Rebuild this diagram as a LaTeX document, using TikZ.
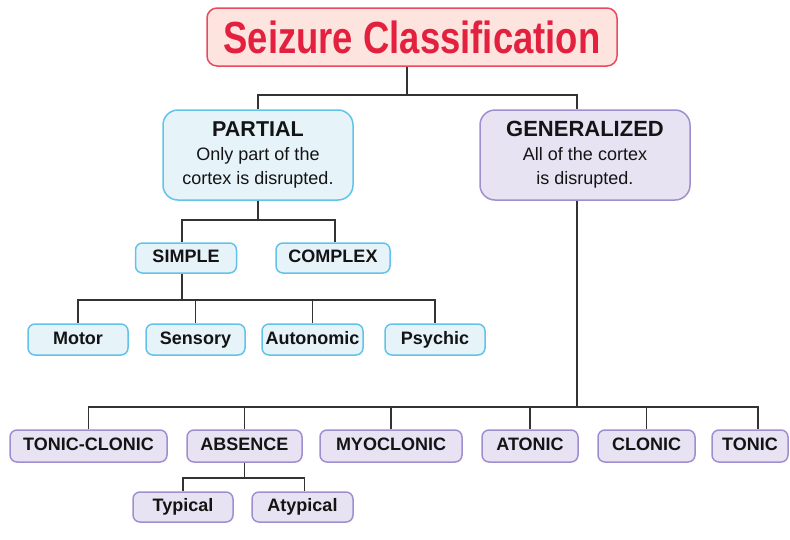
\documentclass[tikz,border=0pt]{standalone}
\usepackage{fontspec}
\setmainfont{Liberation Sans}
\newfontfamily\titlefont{Liberation Sans}[FakeStretch=0.81]
\usetikzlibrary{positioning}

\definecolor{titleline}{HTML}{E84A5F}
\definecolor{titlefill}{HTML}{FDE4DF}
\definecolor{titlered}{HTML}{E3213F}
\definecolor{partline}{HTML}{62C3EA}
\definecolor{partfill}{HTML}{E6F3F9}
\definecolor{genline}{HTML}{A08FD0}
\definecolor{genfill}{HTML}{E7E3F3}
\definecolor{inkgray}{HTML}{141414}
\definecolor{linkgray}{HTML}{333333}

\begin{document}
\begin{tikzpicture}[
    x=1pt, y=-1pt,
    box/.style={draw, rounded corners=7pt, line width=1.5pt, inner sep=0pt, align=center,
        text=inkgray, font=\bfseries\fontsize{18}{20}\selectfont},
    partbox/.style={box, draw=partline, fill=partfill},
    genbox/.style={box, draw=genline, fill=genfill},
    bigbox/.style={rounded corners=15pt, minimum height=90pt, font=\fontsize{18}{24}\selectfont},
    leaf/.style={text height=13pt, text depth=4pt},
    link/.style={draw=linkgray, line width=1.2pt}
]
\useasboundingbox (0,0) rectangle (790,539);

% Title
\node[draw=titleline, fill=titlefill, rounded corners=10pt, line width=1.5pt,
    minimum width=410pt, minimum height=58pt, text=titlered,
    font=\titlefont\bfseries\fontsize{45}{50}\selectfont] (title) at (412,37) {Seizure Classification};

% Main groups
\node[partbox, bigbox, minimum width=190pt] (partial) at (258,155)
    {{\bfseries\fontsize{21.5}{26}\selectfont PARTIAL}\\Only part of the\\cortex is disrupted.};
\node[genbox, bigbox, minimum width=210pt] (gen) at (585,155)
    {{\bfseries\fontsize{22}{26}\selectfont GENERALIZED}\\All of the cortex\\is disrupted.};

% Partial seizures
\node[partbox, leaf, minimum width=101pt, minimum height=30pt] (simple) at (186,258) {SIMPLE};
\node[partbox, leaf, minimum width=114pt, minimum height=30pt] (complex) at (333,258) {COMPLEX};

\node[partbox, leaf, minimum width=100pt, minimum height=31pt] (motor) at (78,339.5) {Motor};
\node[partbox, leaf, minimum width=99pt, minimum height=31pt] (sensory) at (195.5,339.5) {Sensory};
\node[partbox, leaf, minimum width=101pt, minimum height=31pt] (autonomic) at (312.5,339.5) {Autonomic};
\node[partbox, leaf, minimum width=100pt, minimum height=31pt] (psychic) at (435,339.5) {Psychic};

% Generalized seizures
\node[genbox, leaf, minimum width=157pt, minimum height=32pt] (tc) at (88.5,446) {TONIC-CLONIC};
\node[genbox, leaf, minimum width=115pt, minimum height=32pt] (absence) at (244.5,446) {ABSENCE};
\node[genbox, leaf, minimum width=142pt, minimum height=32pt] (myo) at (391,446) {MYOCLONIC};
\node[genbox, leaf, minimum width=96pt, minimum height=32pt] (atonic) at (530,446) {ATONIC};
\node[genbox, leaf, minimum width=97pt, minimum height=32pt] (clonic) at (646.5,446) {CLONIC};
\node[genbox, leaf, minimum width=76pt, minimum height=32pt] (tonic) at (750,446) {TONIC};

\node[genbox, leaf, minimum width=100pt, minimum height=30pt] (typical) at (183,507) {Typical};
\node[genbox, leaf, minimum width=101pt, minimum height=30pt] (atypical) at (302.5,507) {Atypical};

% Bus points
\coordinate (tbus) at (407,95);
\coordinate (pbus) at (258,220);
\coordinate (sbus) at (182,300);
\coordinate (gbus) at (577,407);
\coordinate (abus) at (244.5,478);

% Connections - title
\draw[link] (tbus |- title.south) -- (tbus);
\draw[link] (tbus) -| (partial.north);
\draw[link] (tbus) -| ([xshift=-8pt]gen.north);

% Connections - partial
\draw[link] (partial.south) -- (pbus);
\draw[link] (pbus) -| ([xshift=-4pt]simple.north);
\draw[link] (pbus) -| ([xshift=2pt]complex.north);
\draw[link] ([xshift=-4pt]simple.south) -- (sbus);
\foreach \n in {motor,sensory,autonomic,psychic}
    \draw[link] (sbus) -| (\n.north);

% Connections - generalized
\draw[link] (gbus |- gen.south) -- (gbus);
\foreach \n in {tc,absence,myo,atonic,clonic}
    \draw[link] (gbus) -| (\n.north);
\draw[link] (gbus) -| ([xshift=8pt]tonic.north);
\draw[link] (absence.south) -- (abus);
\draw[link] (abus) -| (typical.north);
\draw[link] (abus) -| ([xshift=2pt]atypical.north);

\end{tikzpicture}
\end{document}
